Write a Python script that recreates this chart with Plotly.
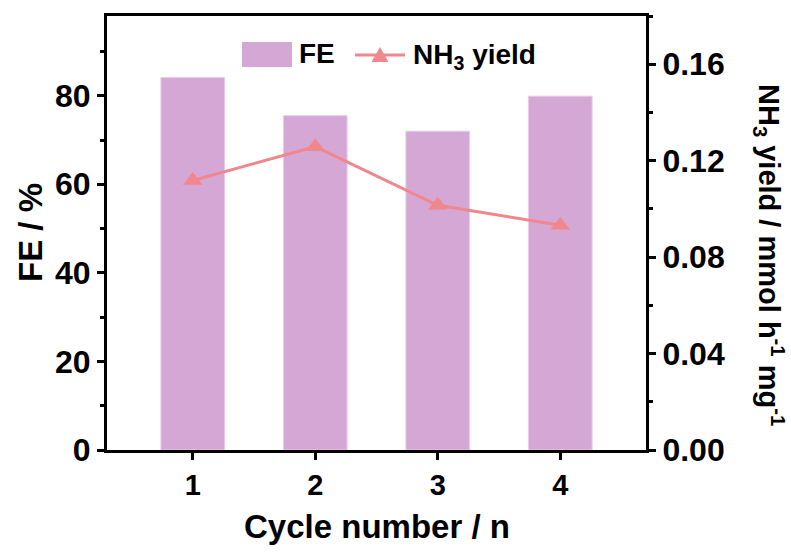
import plotly.graph_objects as go

cycles = [1, 2, 3, 4]
fe_values = [84.1, 75.5, 72.0, 79.9]
nh3_yield = [0.1118, 0.1258, 0.1015, 0.0932]

left_ticks = [0, 20, 40, 60, 80]
right_ticks = [0.00, 0.04, 0.08, 0.12, 0.16]

BAR = "#D5A7D5"
LINE = "#F0878C"
FONT = "Liberation Sans, Arial, sans-serif"

L, R, T, B = 107, 145, 16, 104
W, H = 791, 554
pw = W - L - R
ph = H - T - B


def px(x):
    return (x - L) / pw


def py(y):
    return (H - B - y) / ph


fig = go.Figure()
fig.add_trace(go.Bar(x=cycles, y=fe_values, width=0.52, name="FE",
                     marker=dict(color=BAR, line=dict(color="#E8CCE8", width=1)),
                     showlegend=False))
fig.add_trace(go.Scatter(x=cycles, y=nh3_yield, yaxis="y2", mode="lines+markers",
                         name="NH3 yield",
                         line=dict(color=LINE, width=3),
                         marker=dict(symbol="triangle-up", size=17, color=LINE),
                         showlegend=False))

axis_common = dict(showline=True, linecolor="black", linewidth=3, ticks="outside",
                   ticklen=7, tickwidth=3, tickcolor="black", showgrid=False,
                   zeroline=False)

shapes = [
    dict(type="rect", xref="paper", yref="paper", x0=px(242), x1=px(292),
         y0=py(67), y1=py(42), fillcolor=BAR, line=dict(width=0)),
    dict(type="line", xref="paper", yref="paper", x0=px(355), x1=px(405),
         y0=py(55), y1=py(55), line=dict(color=LINE, width=3)),
    dict(type="path", xref="paper", yref="paper",
         path=f"M {px(371.5)},{py(62)} L {px(388.5)},{py(62)} L {px(380)},{py(47)} Z",
         fillcolor=LINE, line=dict(width=0)),
]

annotations = [
    dict(text="FE", xref="paper", yref="paper", x=px(297), y=py(54), xanchor="left",
         yanchor="middle", showarrow=False,
         font=dict(family=FONT, size=28, color="black", weight="bold")),
    dict(text="NH<sub>3</sub> yield", xref="paper", yref="paper", x=px(411), y=py(57),
         xanchor="left", yanchor="middle", showarrow=False,
         font=dict(family=FONT, size=28, color="black", weight="bold")),
    dict(text="FE / %", xref="paper", yref="paper", x=px(30), y=0.5, textangle=-90,
         xanchor="center", yanchor="middle", showarrow=False,
         font=dict(family=FONT, size=33, color="black", weight="bold")),
    dict(text="NH<sub>3</sub> yield / mmol h<sup>-1</sup> mg<sup>-1</sup>", xref="paper",
         yref="paper", x=px(769), y=py(255), textangle=90, xanchor="center",
         yanchor="middle", showarrow=False,
         font=dict(family=FONT, size=29, color="black", weight="bold")),
    dict(text="Cycle number / n", xref="paper", yref="paper", x=0.5, y=py(526),
         xanchor="center", yanchor="middle", showarrow=False,
         font=dict(family=FONT, size=33, color="black", weight="bold")),
]

fig.update_layout(
    width=W, height=H,
    margin=dict(l=L, r=R, t=T, b=B),
    plot_bgcolor="white", paper_bgcolor="white",
    font=dict(family=FONT, color="black", weight="bold"),
    xaxis=dict(range=[0.3, 4.7], tickvals=cycles, ticktext=[str(c) for c in cycles],
               mirror=True, tickfont=dict(size=29, weight="bold"), **axis_common),
    yaxis=dict(range=[0, 98], tickvals=left_ticks, tickfont=dict(size=32, weight="bold"),
               minor=dict(dtick=10, ticks="outside", ticklen=4, tickwidth=3,
                          tickcolor="black"),
               **axis_common),
    yaxis2=dict(range=[0, 0.18], overlaying="y", side="right", tickvals=right_ticks,
                tickformat=".2f", tickfont=dict(size=32, weight="bold"),
                minor=dict(dtick=0.02, ticks="outside", ticklen=4, tickwidth=3,
                           tickcolor="black"),
                **axis_common),
    shapes=shapes,
    annotations=annotations,
    bargap=0.5,
)

fig.write_html("out.html")
